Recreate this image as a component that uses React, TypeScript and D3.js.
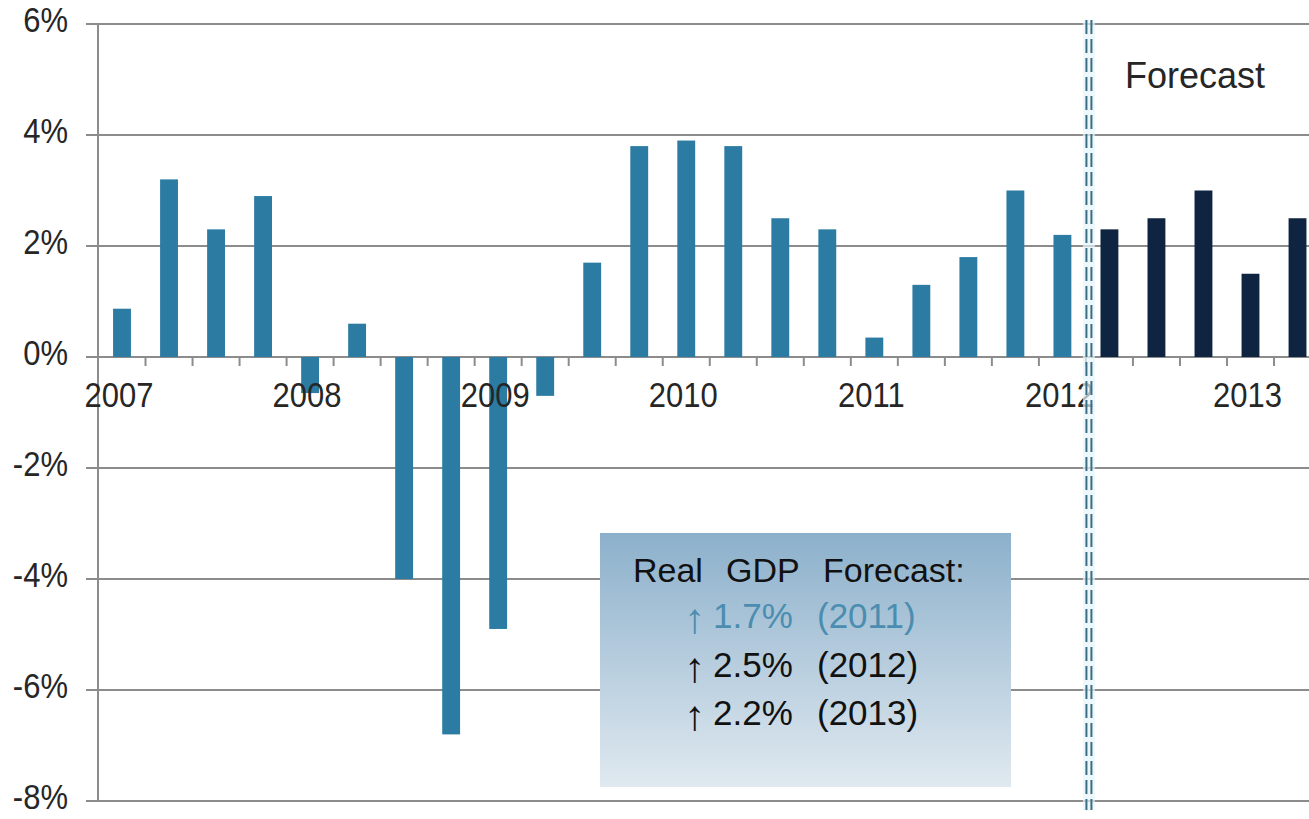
import React from "react";
import * as d3 from "d3";

const categories = [
  "2007Q1","2007Q2","2007Q3","2007Q4",
  "2008Q1","2008Q2","2008Q3","2008Q4",
  "2009Q1","2009Q2","2009Q3","2009Q4",
  "2010Q1","2010Q2","2010Q3","2010Q4",
  "2011Q1","2011Q2","2011Q3","2011Q4",
  "2012Q1","2012Q2","2012Q3","2012Q4",
  "2013Q1","2013Q2",
];
const actualValues = [0.87, 3.2, 2.3, 2.9, -0.65, 0.6, -4.0, -6.8, -4.9, -0.7, 1.7, 3.8, 3.9, 3.8, 2.5, 2.3, 0.35, 1.3, 1.8, 3.0, 2.2];
const forecastValues = [2.3, 2.5, 3.0, 1.5, 2.5];
const yTicks = [-8, -6, -4, -2, 0, 2, 4, 6];
const yearLabels = ["2007", "2008", "2009", "2010", "2011", "2012", "2013"];
const boxTitleWords = ["Real", "GDP", "Forecast:"];
const boxRates = ["1.7%", "2.5%", "2.2%"];
const boxYears = ["(2011)", "(2012)", "(2013)"];
const forecastLabel = "Forecast";

const W = 1309;
const H = 819;
const FONT = "'Liberation Sans', Arial, sans-serif";

export default function App() {
  const step = 47.02;
  const x0 = 98.5;
  const x = d3
    .scaleBand<string>()
    .domain(categories)
    .range([x0, x0 + step * categories.length])
    .paddingInner(0.62)
    .paddingOuter(0.31);
  const y = d3.scaleLinear().domain([-8, 6]).range([801, 24]);
  const bw = x.bandwidth();
  const st = x.step();
  const boundary = (i: number) => (x(categories[i]) as number) + bw / 2 - st / 2;

  const series = [
    ...actualValues.map((v, i) => ({ cat: categories[i], v, f: false })),
    ...forecastValues.map((v, i) => ({ cat: categories[actualValues.length + i], v, f: true })),
  ];

  const splitX = boundary(actualValues.length);
  const gridColor = "#8c8c8c";
  const textColor = "#262626";
  const titleX = [633, 726, 823];

  return (
    <svg
      width={W}
      height={H}
      style={{ position: "absolute", left: 0, top: 0, background: "#fff" }}
      fontFamily={FONT}
    >
      <defs>
        <linearGradient id="boxGrad" x1="0" y1="0" x2="0" y2="1">
          <stop offset="0" stopColor="#8cb0cb" />
          <stop offset="1" stopColor="#e0e9f0" />
        </linearGradient>
      </defs>

      {/* gridlines */}
      {yTicks.map((t) => (
        <line key={t} x1={86} x2={W} y1={y(t)} y2={y(t)} stroke={gridColor} strokeWidth={2} />
      ))}
      {/* y axis line */}
      <line x1={98} x2={98} y1={y(6) - 1} y2={y(-8) + 1} stroke={gridColor} strokeWidth={2} />
      {/* x ticks at zero line */}
      {categories.map((c, i) =>
        i === 0 ? null : (
          <line key={c} x1={boundary(i)} x2={boundary(i)} y1={y(0)} y2={y(0) + 9} stroke={gridColor} strokeWidth={2} />
        )
      )}

      {/* bars */}
      {series.map((d) => (
        <rect
          key={d.cat}
          x={x(d.cat)}
          width={bw}
          y={y(Math.max(0, d.v))}
          height={Math.abs(y(d.v) - y(0))}
          fill={d.f ? "#0e2440" : "#2b7ba3"}
        />
      ))}

      {/* y tick labels */}
      {yTicks.map((t) => (
        <text
          key={t}
          transform={`translate(68,${y(t) + 8}) scale(1,1.12)`}
          textAnchor="end"
          fontSize={31}
          fill={textColor}
        >
          {`${t}%`}
        </text>
      ))}

      {/* year labels */}
      {yearLabels.map((yr, i) => (
        <text
          key={yr}
          transform={`translate(${(x(categories[i * 4]) as number) + bw / 2 - 3},${y(0) + 50}) scale(1,1.12)`}
          textAnchor="middle"
          fontSize={31}
          fill={textColor}
        >
          {yr}
        </text>
      ))}

      {/* forecast divider */}
      <rect x={splitX - 3} y={20} width={12} height={790} fill="#e6f5fb" opacity={0.7} />
      <line x1={splitX + 0.5} x2={splitX + 0.5} y1={20} y2={810} stroke="#3b6e85" strokeWidth={2} strokeDasharray="14 5" />
      <line x1={splitX + 5.5} x2={splitX + 5.5} y1={20} y2={810} stroke="#3b6e85" strokeWidth={2} strokeDasharray="14 5" />

      <text x={1125} y={88} fontSize={36} fill={textColor}>
        {forecastLabel}
      </text>

      {/* info box */}
      <rect x={600} y={533} width={411} height={254} fill="url(#boxGrad)" />
      <text y={582} fontSize={34} fill="#111">
        {boxTitleWords.map((w, i) => (
          <tspan key={w} x={titleX[i]}>
            {w}
          </tspan>
        ))}
      </text>
      <text fontSize={35}>
        {boxRates.map((r, i) => {
          const by = 628 + i * 48.5;
          const col = i === 0 ? "#4b8db0" : "#111";
          return (
            <React.Fragment key={r + i}>
              <tspan x={684} y={by + 5} fontSize={42} fill={col}>
                ↑
              </tspan>
              <tspan x={713} y={by} fill={col}>
                {r}
              </tspan>
              <tspan x={817} y={by} fill={col}>
                {boxYears[i]}
              </tspan>
            </React.Fragment>
          );
        })}
      </text>
    </svg>
  );
}
